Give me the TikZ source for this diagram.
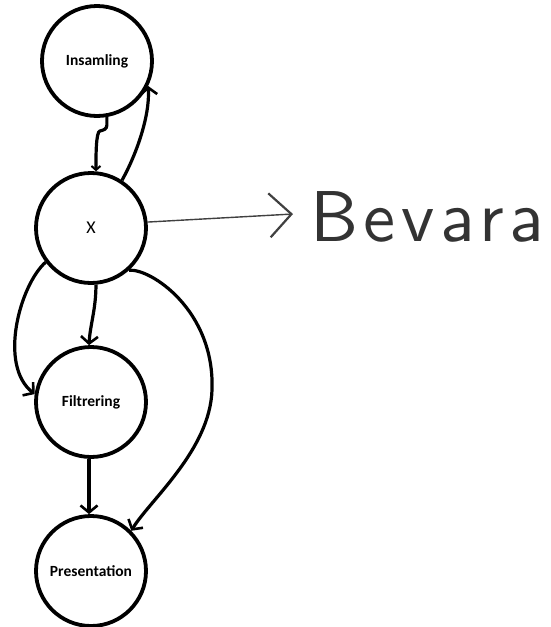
\documentclass[tikz,border=0pt]{standalone}
\usepackage{fontspec}
\usetikzlibrary{arrows.meta}
\newfontfamily\lblfont{Carlito}
\newfontfamily\handfont[Extension=.otf, LetterSpace=8]{lmsans10-regular}
\tikzset{
  state/.style={circle, draw=black, line width=3.8pt, minimum size=110pt, inner sep=0pt, font=\lblfont\bfseries\fontsize{15.5}{17}\selectfont},
  edge/.style={draw=black, line width=3.2pt, -{Straight Barb[length=7pt,width=17pt,line width=2.6pt]}},
  thinarrow/.style={draw=black!75, line width=1.4pt, -{Straight Barb[length=22pt,width=44pt,line width=2.2pt]}},
  hand/.style={font=\handfont\fontsize{72}{72}\selectfont, text=black!80, anchor=west, inner sep=0pt}
}
\begin{document}
\begin{tikzpicture}[x=1pt,y=-1pt]
\useasboundingbox (0,0) rectangle (550,627);
\node[state] (ins) at (97,61) {Insamling};
\node[state, font=\lblfont\fontsize{18}{20}\selectfont] (x) at (91,228) {X};
\node[state] (fil) at (91,402) {Filtrering};
\node[state] (pre) at (91,571) {Presentation};
\coordinate (tip) at (293,214);
\node[hand] (bev) at (310,217) {Bevara};

% wiggly Insamling -> X
\draw[line width=3.2pt, -{Straight Barb[length=4pt,width=9pt,line width=2pt]}] (ins.-80) -- ++(0,8) .. controls ++(0,4) and ++(4,-1) .. ++(-7,6) .. controls ++(-4,1) and ++(0,-15) .. (x.85);
% X -> Insamling curve
\draw[edge] (x.57) .. controls ++(14,-25) and ++(2,30) .. (ins.-26);
% X -> Bevara
\draw[thinarrow] (x.6) -- (tip);
% X -> Filtrering straight
\draw[edge] (x.-85) .. controls ++(0,25) and ++(1,-20) .. (fil.92);
% X -> Filtrering left
\draw[edge] (x.-143) .. controls (20,285) and (-2,365) .. (fil.172);
% X -> Presentation
\draw[edge] (x.-48) .. controls (150,268) and (215,310) .. (212,390) .. controls (210,450) and (150,500) .. (pre.45);
% Filtrering -> Presentation
\draw[edge] (fil.-92) -- (pre.92);
\end{tikzpicture}
\end{document}
